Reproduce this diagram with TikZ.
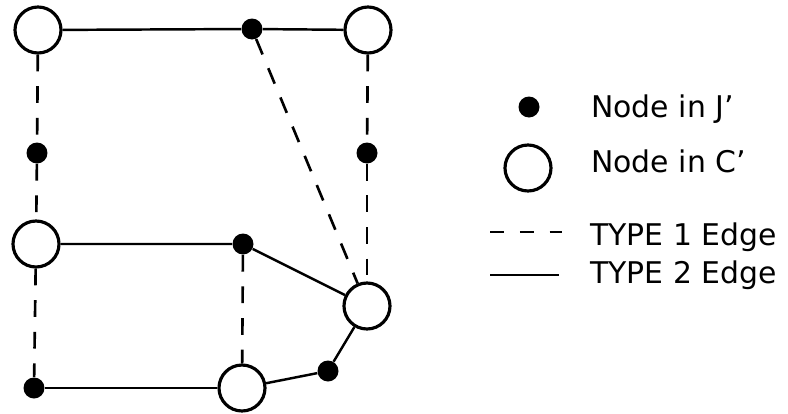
\documentclass[tikz,border=0pt]{standalone}
\usepackage{fontspec}
\setmainfont{DejaVu Sans}
\usepackage{tikz}

\tikzset{
  cnode/.style={circle, draw, line width=1.8pt, fill=white, minimum size=0.92cm, inner sep=0pt},
  jnode/.style={circle, fill=black, minimum size=0.42cm, inner sep=0pt},
  typeone/.style={line width=1.5pt, dash pattern=on 9.5pt off 8.5pt},
  typetwo/.style={line width=1.4pt},
  keytext/.style={anchor=base west, inner sep=0pt, font=\fontsize{17}{20}\selectfont}
}

\begin{document}
\begin{tikzpicture}[x=0.02cm, y=-0.02cm]
  \useasboundingbox (0,0) rectangle (788,413);
  %% nodes in C' (open) and in J' (filled)
  \node[cnode] (cA) at (38,30) {};
  \node[cnode] (cB) at (368,30) {};
  \node[cnode] (cC) at (36,244) {};
  \node[cnode] (cD) at (367,306) {};
  \node[cnode] (cE) at (242,388) {};
  \node[jnode] (jA) at (252,29) {};
  \node[jnode] (jB) at (37,153) {};
  \node[jnode] (jC) at (367,153) {};
  \node[jnode] (jD) at (243,244) {};
  \node[jnode] (jE) at (328,371) {};
  \node[jnode] (jF) at (34,388) {};
  %% type 2 edges
  \draw[typetwo] (cA) -- (jA) -- (cB);
  \draw[typetwo] (cC) -- (jD) -- (cD);
  \draw[typetwo] (cD) -- (jE) -- (cE);
  \draw[typetwo] (jF) -- (cE);
  %% type 1 edges
  \draw[typeone] (cA) -- (jB);
  \draw[typeone] (jB) -- (cC);
  \draw[typeone] (cC) -- (jF);
  \draw[typeone] (jD) -- (cE);
  \draw[typeone] (jA) -- (cD);
  \draw[typeone] (cB) -- (jC);
  \draw[typeone] (jC) -- (cD);
  %% legend
  \node[jnode] (keyJ) at (529,107) {};
  \node[cnode] (keyC) at (528,168) {};
  \coordinate (keyOneA) at (490,232);
  \coordinate (keyOneB) at (562,232);
  \coordinate (keyTwoA) at (490,275);
  \coordinate (keyTwoB) at (559,275);
  \draw[typeone, dash pattern=on 8pt off 9pt] (keyOneA) -- (keyOneB);
  \draw[typetwo] (keyTwoA) -- (keyTwoB);
  \node[keytext] (txtJ) at (591,117) {Node in J'};
  \node[keytext] (txtC) at (591,172) {Node in C'};
  \node[keytext] (txtOne) at (590,245) {TYPE 1 Edge};
  \node[keytext] (txtTwo) at (590,283) {TYPE 2 Edge};
\end{tikzpicture}
\end{document}
